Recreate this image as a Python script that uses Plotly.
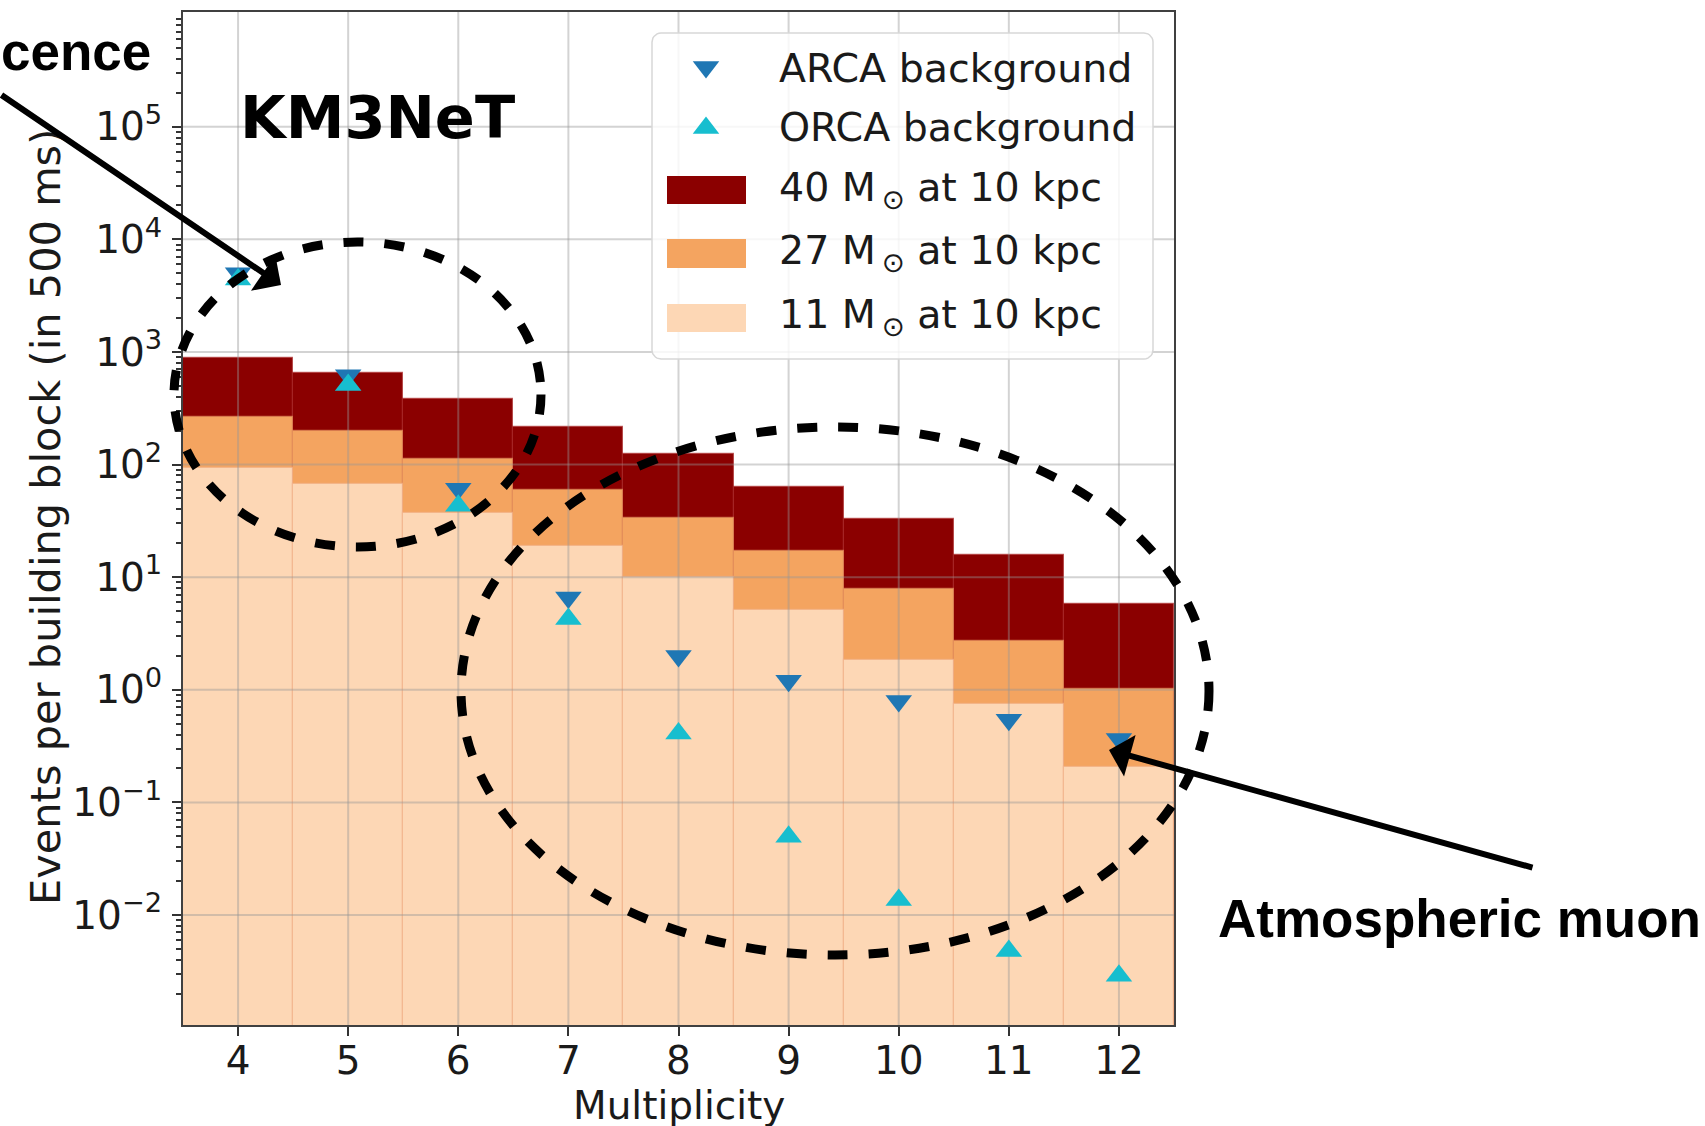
import numpy as np
import plotly.graph_objects as go

# ---------------- data ----------------
multiplicity = [4, 5, 6, 7, 8, 9, 10, 11, 12]
sn40 = [879, 647, 380, 214, 123, 62.9, 33.1, 15.6, 5.75]          # 40 Msun at 10 kpc
sn27 = [263, 199, 111, 59.5, 33.3, 17.2, 7.81, 2.70, 1.02]         # 27 Msun at 10 kpc
sn11 = [93.8, 66.8, 36.9, 18.9, 10.1, 5.11, 1.84, 0.743, 0.208]    # 11 Msun at 10 kpc
arca_bg = [5000, 620, 61, 6.6, 2.0, 1.20, 0.795, 0.542, 0.366]
orca_bg = [4400, 510, 43, 4.25, 0.41, 0.0496, 0.0136, 0.00479, 0.00288]

ytick_vals = [1e-2, 1e-1, 1e0, 1e1, 1e2, 1e3, 1e4, 1e5]
ytick_text = ["10<sup>−2</sup>", "10<sup>−1</sup>", "10<sup>0</sup>", "10<sup>1</sup>",
              "10<sup>2</sup>", "10<sup>3</sup>", "10<sup>4</sup>", "10<sup>5</sup>"]
ymin_log, ymax_log = -2.977, 6.019
minor_vals = [k * 10.0 ** e for e in range(-3, 6) for k in range(2, 10)]

# ---------------- geometry (pixels) ----------------
W, H = 1705, 1126
PL, PR, PT, PB = 183, 1174, 12, 1025


def PX(x):
    return (x - PL) / (PR - PL)


def PY(y):
    return (PB - y) / (PB - PT)


C40, C27, C11 = "#8B0000", "#F4A460", "#FDD7B5"
CARCA, CORCA = "#1f77b4", "#17becf"
FONT = "DejaVu Sans"
TXT = "#1a1a1a"
MSIZE = 23

fig = go.Figure()

# histograms (overlaid, each from the bottom)
for vals, col, edge in [(sn40, C40, "rgba(170,40,40,0.7)"),
                        (sn27, C27, "rgba(225,140,90,0.7)"),
                        (sn11, C11, "rgba(240,175,135,0.6)")]:
    fig.add_trace(go.Bar(x=multiplicity, y=vals, width=1.0,
                         marker=dict(color=col, line=dict(color=edge, width=1.2)),
                         showlegend=False, hoverinfo="skip"))

# grid lines above bars but below markers (matplotlib default order)
gx, gy = [], []
for v in ytick_vals:
    gx += [3.5, 12.5, None]
    gy += [v, v, None]
for k in multiplicity:
    gx += [k, k, None]
    gy += [10 ** ymin_log, 10 ** ymax_log, None]
fig.add_trace(go.Scatter(x=gx, y=gy, mode="lines", xaxis="x2", yaxis="y2",
                         line=dict(color="rgba(150,150,150,0.42)", width=2),
                         showlegend=False, hoverinfo="skip"))

fig.add_trace(go.Scatter(x=multiplicity, y=arca_bg, mode="markers", xaxis="x2", yaxis="y2",
                         marker=dict(symbol="triangle-down", size=MSIZE, color=CARCA),
                         showlegend=False, name="ARCA background"))
fig.add_trace(go.Scatter(x=multiplicity, y=orca_bg, mode="markers", xaxis="x2", yaxis="y2",
                         marker=dict(symbol="triangle-up", size=MSIZE, color=CORCA),
                         showlegend=False, name="ORCA background"))

# ---------------- custom legend (pixel-mapped overlay axes) ----------------
bx0, by0, bx1, by1, rad = 652, 33, 1153, 359, 9
t = np.linspace(0, np.pi / 2, 8)
lx, ly = [], []
for cx, cy, a0 in [(bx1 - rad, by0 + rad, -np.pi / 2), (bx1 - rad, by1 - rad, 0),
                   (bx0 + rad, by1 - rad, np.pi / 2), (bx0 + rad, by0 + rad, np.pi)]:
    lx += list(cx + rad * np.cos(a0 + t))
    ly += list(cy + rad * np.sin(a0 + t))
lx.append(lx[0]); ly.append(ly[0])
fig.add_trace(go.Scatter(x=lx, y=ly, mode="lines", fill="toself", xaxis="x3", yaxis="y3",
                         fillcolor="rgba(255,255,255,0.82)",
                         line=dict(color="rgba(215,215,215,1)", width=1.5),
                         showlegend=False, hoverinfo="skip"))
fig.add_trace(go.Scatter(x=[706], y=[67], mode="markers", xaxis="x3", yaxis="y3",
                         marker=dict(symbol="triangle-down", size=MSIZE, color=CARCA),
                         showlegend=False, hoverinfo="skip"))
fig.add_trace(go.Scatter(x=[706], y=[128], mode="markers", xaxis="x3", yaxis="y3",
                         marker=dict(symbol="triangle-up", size=MSIZE, color=CORCA),
                         showlegend=False, hoverinfo="skip"))

shapes = []
for (y0, y1), col in zip([(176, 204), (239, 268), (304, 332)], [C40, C27, C11]):
    shapes.append(dict(type="rect", xref="paper", yref="paper", layer="above",
                       x0=PX(667), x1=PX(746), y0=PY(y1), y1=PY(y0),
                       fillcolor=col, line=dict(width=0)))

legend_labels = ["ARCA background", "ORCA background",
                 "40 M<sub>\u2009⊙</sub> at 10 kpc", "27 M<sub>\u2009⊙</sub> at 10 kpc",
                 "11 M<sub>\u2009⊙</sub> at 10 kpc"]
legend_y = [67.5, 127.5, 189.5, 252.5, 317.5]
annotations = []
for lab, yy in zip(legend_labels, legend_y):
    annotations.append(dict(text=lab, xref="paper", yref="paper", x=PX(777), y=PY(yy),
                            xanchor="left", yanchor="middle", showarrow=False,
                            font=dict(family=FONT, size=39.5, color=TXT)))

annotations.append(dict(text="<b>KM3NeT</b>", xref="paper", yref="paper", x=PX(377), y=PY(117.5),
                        xanchor="center", yanchor="middle", showarrow=False,
                        font=dict(family=FONT, size=59, color="black")))

# axis titles
annotations.append(dict(text="Multiplicity", xref="paper", yref="paper",
                        x=PX((PL + PR) / 2), y=PY(1105), xanchor="center", yanchor="middle",
                        showarrow=False, font=dict(family=FONT, size=39, color=TXT)))
annotations.append(dict(text="Events per building block (in 500 ms)", xref="paper", yref="paper",
                        x=PX(45), y=PY(517), xanchor="center", yanchor="middle", textangle=-90,
                        showarrow=False, font=dict(family=FONT, size=41.5, color=TXT)))

# slide decorations: dashed ellipses, arrows, labels
for (x0, x1, y0, y1) in [(174, 541, 242, 547), (461, 1209, 427, 955)]:
    shapes.append(dict(type="circle", xref="paper", yref="paper", layer="above",
                       x0=PX(x0), x1=PX(x1), y0=PY(y1), y1=PY(y0),
                       line=dict(color="black", width=9, dash="20px,21px")))

annotations.append(dict(text="", xref="paper", yref="paper", x=PX(281), y=PY(285),
                        ax=-301, ay=-191, axref="pixel", ayref="pixel", showarrow=True,
                        arrowhead=1, arrowsize=1.2, arrowwidth=6, arrowcolor="black"))
annotations.append(dict(text="", xref="paper", yref="paper", x=PX(1109), y=PY(750),
                        ax=425, ay=118, axref="pixel", ayref="pixel", showarrow=True,
                        arrowhead=1, arrowsize=1.2, arrowwidth=6, arrowcolor="black"))
annotations.append(dict(text="<b>cence</b>", xref="paper", yref="paper", x=PX(152.5), y=PY(51.6),
                        xanchor="right", yanchor="middle", showarrow=False,
                        font=dict(family="Liberation Sans", size=53, color="black")))
annotations.append(dict(text="<b>Atmospheric muon</b>", xref="paper", yref="paper",
                        x=PX(1216), y=PY(918.6), xanchor="left", yanchor="middle", showarrow=False,
                        font=dict(family="Liberation Sans", size=53, color="black")))

axis_common = dict(showline=True, linecolor="#404040", linewidth=2, mirror=True,
                   ticks="outside", ticklen=9, tickwidth=2, tickcolor="#333",
                   showgrid=False, zeroline=False,
                   tickfont=dict(family=FONT, size=39, color=TXT))

fig.update_layout(
    width=W, height=H,
    margin=dict(l=PL, r=W - PR, t=PT, b=H - PB, pad=0, autoexpand=False),
    paper_bgcolor="white", plot_bgcolor="white",
    barmode="overlay", bargap=0,
    template=None,
    showlegend=False,
    xaxis=dict(range=[3.5, 12.5], tickvals=multiplicity, ticktext=[str(m) for m in multiplicity],
               ticklabelstandoff=-9, automargin=False, **axis_common),
    yaxis=dict(type="log", range=[ymin_log, ymax_log], tickvals=ytick_vals, ticktext=ytick_text,
               ticklabelstandoff=2, automargin=False,
               minor=dict(tickvals=minor_vals, ticks="outside", ticklen=5, tickwidth=1.5,
                          tickcolor="#333", showgrid=False),
               **axis_common),
    xaxis2=dict(overlaying="x", range=[3.5, 12.5], visible=False),
    yaxis2=dict(overlaying="y", type="log", range=[ymin_log, ymax_log], visible=False),
    xaxis3=dict(overlaying="x", range=[PL, PR], visible=False),
    yaxis3=dict(overlaying="y", range=[PB, PT], visible=False),
    shapes=shapes,
    annotations=annotations,
)

fig.write_html("out.html", config={"displayModeBar": False},
               post_script="document.body.style.margin='0px';document.body.style.overflow='hidden';")
